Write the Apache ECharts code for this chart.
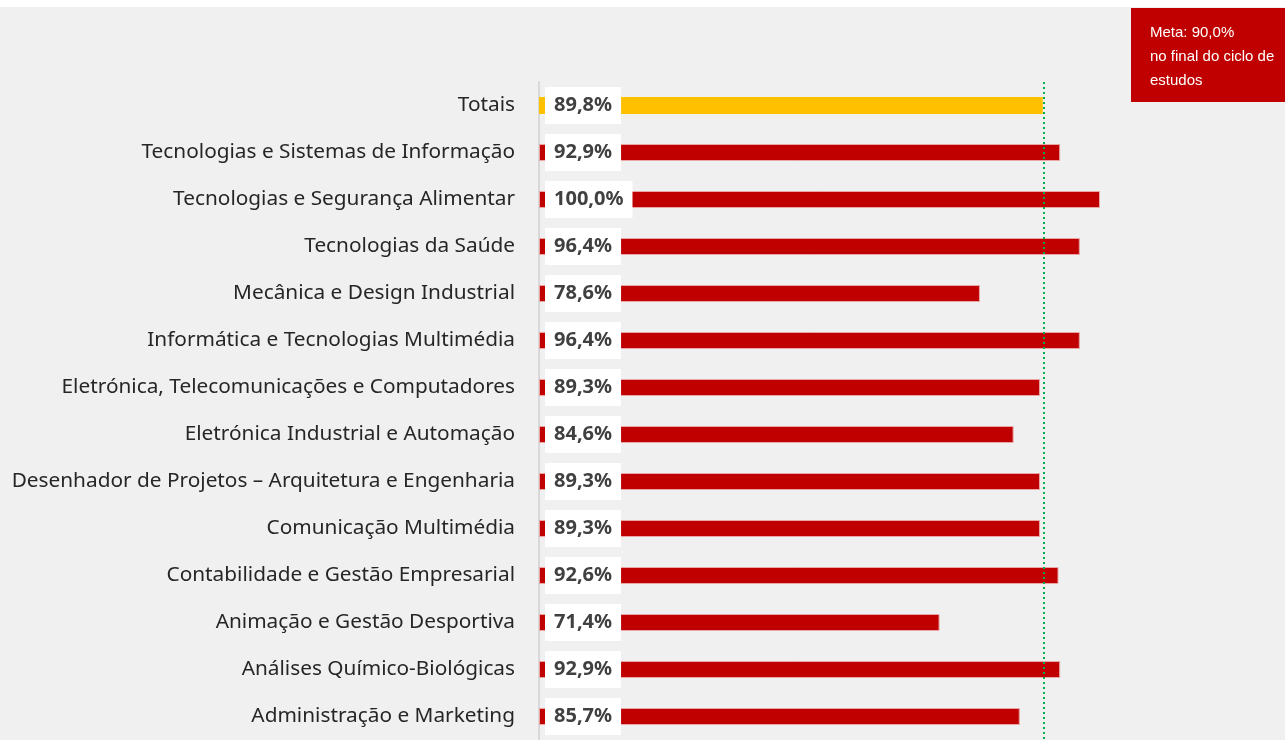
<!DOCTYPE html>
<html>
<head>
<meta charset="utf-8">
<script src="https://cdn.jsdelivr.net/npm/echarts@6/dist/echarts.min.js"></script>
<style>
    html, body { margin: 0; padding: 0; background: #ffffff; }
    #chart { position: absolute; left: 0; top: 7px; width: 1285px; height: 733px; background: #f0f0f0; }
</style>
</head>
<body>
<div id="chart"></div>
<script>
    // categorias (de cima para baixo)
    const categories = [
        'Totais',
        'Tecnologias e Sistemas de Informação',
        'Tecnologias e Segurança Alimentar',
        'Tecnologias da Saúde',
        'Mecânica e Design Industrial',
        'Informática e Tecnologias Multimédia',
        'Eletrónica, Telecomunicações e Computadores',
        'Eletrónica Industrial e Automação',
        'Desenhador de Projetos – Arquitetura e Engenharia',
        'Comunicação Multimédia',
        'Contabilidade e Gestão Empresarial',
        'Animação e Gestão Desportiva',
        'Análises Químico-Biológicas',
        'Administração e Marketing'
    ];
    const values = [89.8, 92.9, 100.0, 96.4, 78.6, 96.4, 89.3, 84.6, 89.3, 89.3, 92.6, 71.4, 92.9, 85.7];
    const meta = 90.0;
    const metaText = ['Meta: 90,0%', 'no final do ciclo de', 'estudos'];

    const chart = echarts.init(document.getElementById('chart'));

    const fmt = v => v.toFixed(1).replace('.', ',') + '%';

    chart.setOption({
        animation: false,
        backgroundColor: '#f0f0f0',
        grid: {
            left: 539,
            right: 185,
            top: 75,
            bottom: 0,
            containLabel: false
        },
        xAxis: {
            type: 'value',
            min: 0,
            max: 100,
            show: false
        },
        yAxis: {
            type: 'category',
            inverse: true,
            data: categories,
            axisLine: { show: true, lineStyle: { color: '#d9d9d9', width: 2 } },
            axisTick: { show: false },
            axisLabel: {
                margin: 24,
                fontFamily: 'Noto Sans',
                fontSize: 20.8,
                color: '#262626'
            }
        },
        series: [
            {
                type: 'bar',
                barWidth: 17,
                data: values.map((v, i) => ({
                    value: v,
                    itemStyle: i === 0
                        ? { color: '#ffc000' }
                        : { color: '#c00000', borderColor: '#e8a6a6', borderWidth: 1 }
                })),
                label: {
                    show: true,
                    position: 'insideLeft',
                    offset: [1, 0],
                    formatter: p => fmt(p.value),
                    fontFamily: 'Noto Sans',
                    fontWeight: 'bold',
                    fontSize: 20,
                    lineHeight: 24,
                    color: '#404040',
                    backgroundColor: '#ffffff',
                    padding: [7, 9, 6, 9]
                },
                markLine: {
                    silent: true,
                    symbol: 'none',
                    label: { show: false },
                    lineStyle: { color: '#00b050', type: [2, 3], width: 2 },
                    data: [{ xAxis: meta }]
                }
            }
        ],
        graphic: [
            {
                type: 'rect',
                left: 1131,
                top: 1,
                shape: { width: 154, height: 94 },
                style: { fill: '#c00000' }
            },
            {
                type: 'text',
                left: 1150,
                top: 14,
                style: {
                    text: metaText.join('\n'),
                    fill: '#ffffff',
                    font: '15px "Liberation Sans", Arial',
                    lineHeight: 24
                }
            }
        ]
    });
</script>
</body>
</html>
